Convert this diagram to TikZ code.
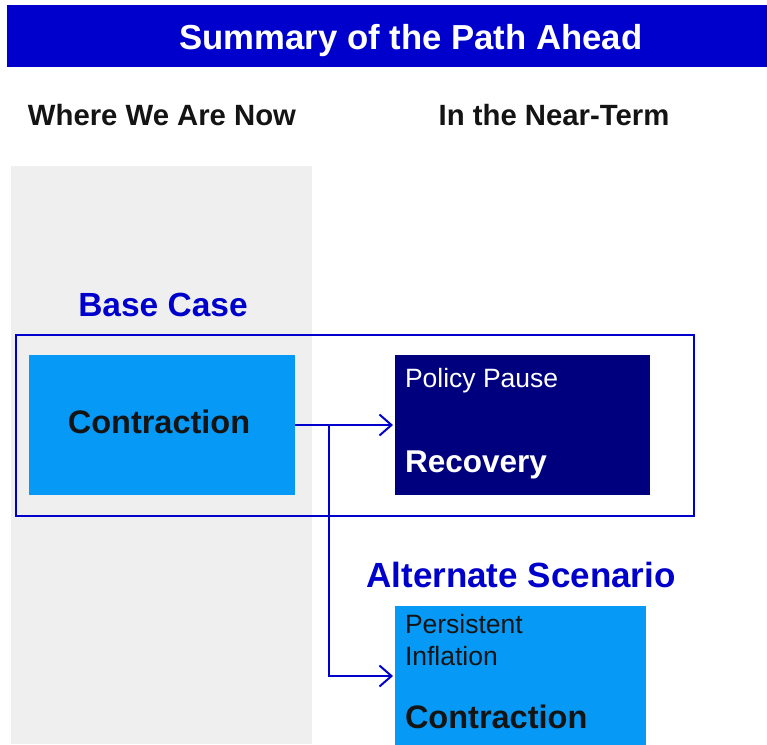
\documentclass[tikz,border=0pt]{standalone}
\usepackage{fontspec}
\setmainfont{Liberation Sans}
\usetikzlibrary{arrows.meta}
\definecolor{ttlblue}{HTML}{0000CC}
\definecolor{lblue}{HTML}{0699F5}
\definecolor{navyb}{HTML}{00007F}
\definecolor{colgray}{HTML}{EFEFEF}
\definecolor{ink}{HTML}{141414}
\begin{document}
\begin{tikzpicture}[x=1pt,y=-1pt,
  fillbox/.style={inner sep=0pt, outer sep=0pt, anchor=north west},
  arr/.style={draw=ttlblue, line width=2pt, shorten >=2pt, -{Straight Barb[length=12pt,width=21pt]}},
  txt/.style={inner sep=0pt, outer sep=0pt, anchor=base west},
  ctxt/.style={inner sep=0pt, outer sep=0pt, anchor=base}]
\useasboundingbox (0,0) rectangle (767,744);
\fill[white] (0,0) rectangle (767,744);
% title bar
\node[fillbox, fill=ttlblue, minimum width=760pt, minimum height=62pt] (bar) at (7,5) {};
\node[ctxt, text=white, font=\fontsize{34.7}{42}\selectfont\bfseries] (title) at (411,49) {Summary of the Path Ahead};
% gray column
\node[fillbox, fill=colgray, minimum width=301pt, minimum height=578pt] (col) at (11,166) {};
% headings
\node[ctxt, text=ink, font=\fontsize{29.3}{35}\selectfont\bfseries] (h1) at (162,125) {Where We Are Now};
\node[ctxt, text=ink, font=\fontsize{29.3}{35}\selectfont\bfseries] (h2) at (554,125) {In the Near-Term};
% base case
\node[ctxt, text=ttlblue, font=\fontsize{33.5}{40}\selectfont\bfseries] (basecase) at (163,316.7) {Base Case};
\node[fillbox, draw=ttlblue, line width=2pt, minimum width=678pt, minimum height=181pt] (basebox) at (16,335) {};
\node[fillbox, fill=lblue, minimum width=266pt, minimum height=140pt] (c1) at (29,355) {};
\node[ctxt, text=ink, font=\fontsize{32.5}{38}\selectfont\bfseries] (c1t) at (159,433.3) {Contraction};
\node[fillbox, fill=navyb, minimum width=255pt, minimum height=140pt] (rec) at (395,355) {};
\node[txt, text=white, font=\fontsize{26.5}{32}\selectfont] (pp) at (405,387) {Policy Pause};
\node[txt, text=white, font=\fontsize{31.5}{38}\selectfont\bfseries] (rect) at (405,472) {Recovery};
% alternate scenario
\node[ctxt, text=ttlblue, font=\fontsize{35}{42}\selectfont\bfseries] (alts) at (521,587) {Alternate Scenario};
\node[fillbox, fill=lblue, minimum width=251pt, minimum height=140pt] (alt) at (395,606) {};
\node[txt, text=ink, font=\fontsize{26.5}{32}\selectfont] (pi1) at (405,633.3) {Persistent};
\node[txt, text=ink, font=\fontsize{26.5}{32}\selectfont] (pi2) at (405,665) {Inflation};
\node[txt, text=ink, font=\fontsize{32.5}{38}\selectfont\bfseries] (c2t) at (405,728.3) {Contraction};
% connectors
\draw[arr] (c1.east) -- (c1.east -| rec.west);
\coordinate (j) at (329,425);
\draw[arr] (j) -- (j |- 0,676) -- (alt.west |- 0,676);
\end{tikzpicture}
\end{document}
